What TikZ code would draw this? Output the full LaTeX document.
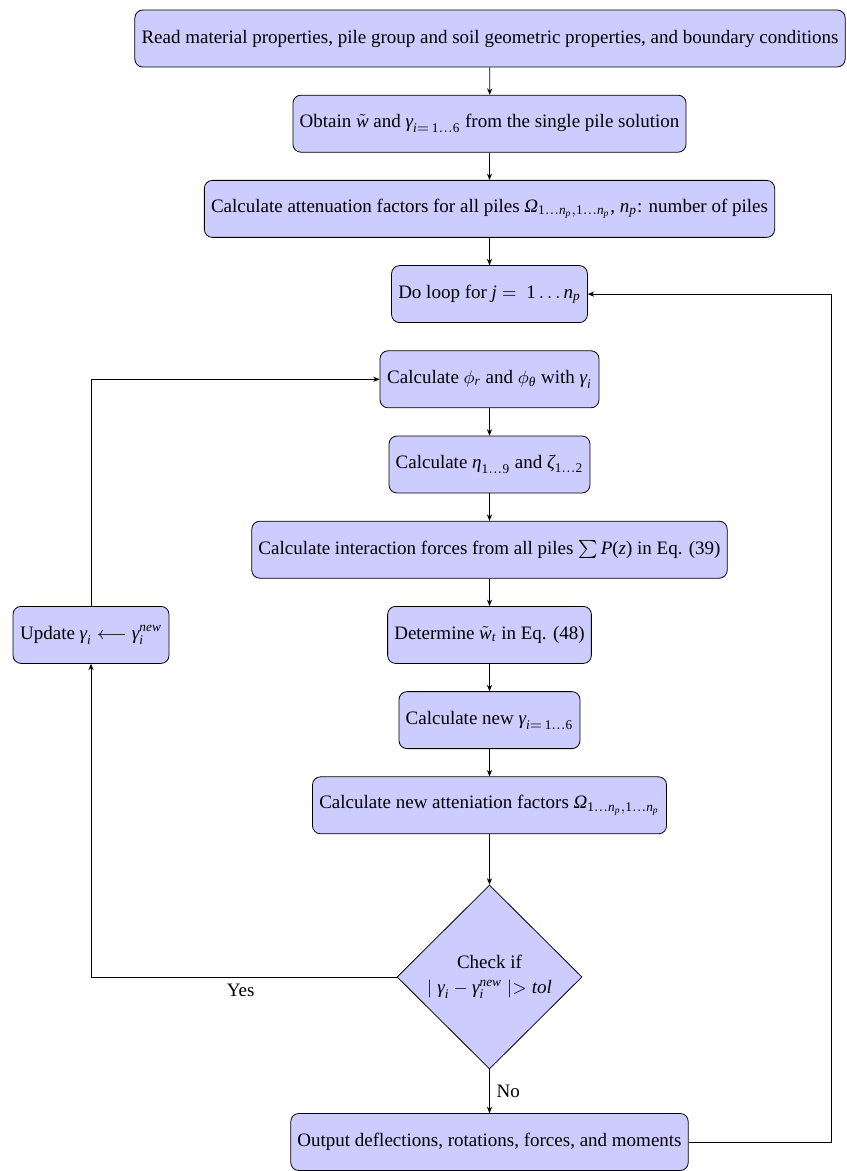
\documentclass[tikz,border=0pt]{standalone}
\usepackage{amsmath}
\usepackage[no-math]{fontspec}
\setmainfont{Liberation Serif}
\usetikzlibrary{arrows.meta,shapes.geometric}
\newcommand\mv[1]{\text{\itshape #1}}
\newcommand\mt[1]{\text{\upshape #1}}
\tikzset{
  stepbox/.style={draw=black, fill=blue!20, rounded corners=4pt, minimum height=28.5pt, inner sep=3.33pt, align=center, font=\fontsize{9.5}{11.5}\selectfont},
  decision/.style={draw=black, fill=blue!20, diamond, aspect=1, minimum width=92.5pt, minimum height=92pt, inner sep=0.5pt, align=center, font=\fontsize{9.5}{12.5}\selectfont},
  arr/.style={draw=black, line width=0.4pt, -{Stealth[length=3.2pt,width=2.6pt]}},
  lbl/.style={font=\fontsize{9.5}{11.5}\selectfont}
}
\begin{document}
\begin{tikzpicture}[x=0.5pt,y=-0.5pt]
\useasboundingbox (0,0) rectangle (846,1171);
\node[stepbox, minimum width=355pt] (b1) at (490,38.5) {Read material properties, pile group and soil geometric properties, and boundary conditions};
\node[stepbox, minimum width=194pt] (b2) at (489.5,123.7) {Obtain $\tilde{\mv{w}}$ and $\mv{γ}_{\mv{i}=\,\mt{1}\ldots\mt{6}}$ from the single pile solution};
\node[stepbox, minimum width=285pt] (b3) at (489.5,208.9) {Calculate attenuation factors for all piles $\mv{Ω}_{\mt{1}\ldots \mv{n}_{\mv{p}},\mt{1}\ldots \mv{n}_{\mv{p}}}$, $\mv{n}_{\mv{p}}$: number of piles};
\node[stepbox, minimum width=95pt] (b4) at (489.5,294.1) {Do loop for $\mv{j}=\ \mt{1}\ldots \mv{n}_{\mv{p}}$};
\node[stepbox, minimum width=109.5pt] (b5) at (489.5,379.3) {Calculate $\phi_{\mv{r}}$ and $\phi_{\mv{θ}}$ with $\mv{γ}_{\mv{i}}$};
\node[stepbox, minimum width=99.5pt] (b6) at (489.5,464.5) {Calculate $\mv{η}_{\mt{1}\ldots\mt{9}}$ and $\mv{ζ}_{\mt{1}\ldots\mt{2}}$};
\node[stepbox, minimum width=234pt] (b7) at (489.5,549.7) {Calculate interaction forces from all piles $\sum \mv{P}\mt{(}\mv{z}\mt{)}$ in Eq. (39)};
\node[stepbox, minimum width=101pt] (b8) at (489.5,634.9) {Determine $\tilde{\mv{w}}_{\mv{t}}$ in Eq. (48)};
\node[stepbox, minimum width=78pt] (upd) at (91,634.9) {Update $\mv{γ}_{\mv{i}}\longleftarrow\mv{γ}_{\mv{i}}^{\mv{new}}$};
\node[stepbox, minimum width=88.5pt] (b9) at (489.5,720.1) {Calculate new $\mv{γ}_{\mv{i}=\,\mt{1}\ldots\mt{6}}$};
\node[stepbox, minimum width=177pt] (b10) at (489.5,805.3) {Calculate new atteniation factors $\mv{Ω}_{\mt{1}\ldots \mv{n}_{\mv{p}},\mt{1}\ldots \mv{n}_{\mv{p}}}$};
\node[decision] (dia) at (489.5,977) {Check if\\ $\mid\mv{γ}_{\mv{i}}-\mv{γ}_{\mv{i}}^{\mv{new}}\mid> \mv{tol}$};
\node[stepbox, minimum width=198.5pt] (out) at (489.5,1142) {Output deflections, rotations, forces, and moments};
\coordinate (rx) at (831,0);

\draw[arr] (b1) -- (b2);
\draw[arr] (b2) -- (b3);
\draw[arr] (b3) -- (b4);
\draw[arr] (b5) -- (b6);
\draw[arr] (b6) -- (b7);
\draw[arr] (b7) -- (b8);
\draw[arr] (b8) -- (b9);
\draw[arr] (b9) -- (b10);
\draw[arr] (b10) -- (dia);
\draw[arr] (dia.west) -| node[lbl, below, pos=0.255] {Yes} (upd.south);
\draw[arr] (upd.north) |- (b5.west);
\draw[arr] (dia.south) -- node[lbl, right] {No} (out.north);
\draw[arr] (out.east) -- (out.east -| rx) |- (b4.east);
\end{tikzpicture}
\end{document}
